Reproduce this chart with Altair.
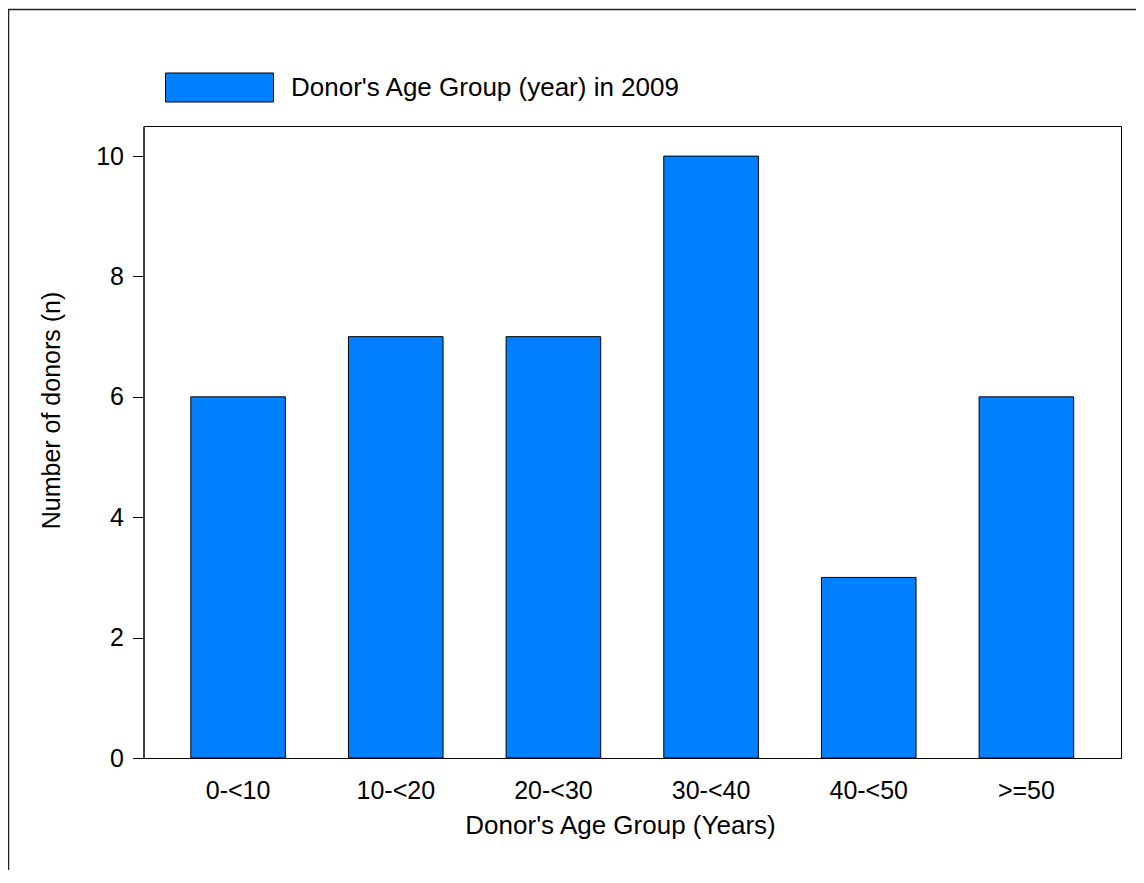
import altair as alt
import pandas as pd

categories = ["0-<10", "10-<20", "20-<30", "30-<40", "40-<50", ">=50"]
donors = [6, 7, 7, 10, 3, 6]
series_name = "Donor's Age Group (year) in 2009"
y_ticks = [0, 2, 4, 6, 8, 10]

df = pd.DataFrame({"group": categories, "n": donors, "series": [series_name] * len(categories)})

FONT = "Liberation Sans"

bars = alt.Chart(df).mark_bar(stroke="black", strokeWidth=1).encode(
    x=alt.X("group:N", sort=categories,
            scale=alt.Scale(paddingInner=0.4, paddingOuter=0.3),
            axis=alt.Axis(title="Donor's Age Group (Years)", labelAngle=0, ticks=False,
                          labelPadding=20, labelFontSize=25, titleFontSize=26,
                          titleX=476.5, titleY=75, titleAlign="center",
                          titleBaseline="alphabetic", domainColor="black",
                          labelColor="black", titleColor="black", titleFontWeight="normal")),
    y=alt.Y("n:Q", scale=alt.Scale(domain=[0, 10.5], nice=False),
            axis=alt.Axis(title="Number of donors (n)", values=y_ticks, tickSize=11,
                          labelPadding=9, labelFontSize=25, titleFontSize=25,
                          titleAngle=270, titleX=-84.2, titleY=284, titleAlign="center",
                          titleBaseline="alphabetic", domainColor="black", tickColor="black",
                          labelColor="black", titleColor="black", titleFontWeight="normal",
                          grid=False)),
    color=alt.Color("series:N", scale=alt.Scale(range=["#0080FF"]),
                    legend=alt.Legend(title=None, orient="none", legendX=21.5, legendY=-93,
                                      symbolType="M-1,-0.2685H1V0.2685H-1Z", symbolSize=11664,
                                      symbolStrokeColor="black", symbolStrokeWidth=1,
                                      symbolOpacity=1, labelFontSize=26, labelOffset=17,
                                      labelColor="black", labelLimit=1000, padding=0,
                                      labelFont=FONT)),
)

frame = alt.Chart(pd.DataFrame({"k": [0]})).mark_rect(
    fill=None, stroke="#222", strokeWidth=1.5, clip=False
).encode(
    x=alt.value(-135), x2=alt.value(1400), y=alt.value(-116.5), y2=alt.value(1400)
)

chart = alt.layer(frame, bars).properties(
    width=977.5, height=632,
    autosize=alt.AutoSizeParams(type="none"),
    padding={"left": 135.5, "top": 118, "right": 15, "bottom": 112},
    background="white",
).configure(font=FONT).configure_view(stroke="black", strokeWidth=1)

chart.save("out.html", embed_options={"renderer": "svg", "actions": False})
